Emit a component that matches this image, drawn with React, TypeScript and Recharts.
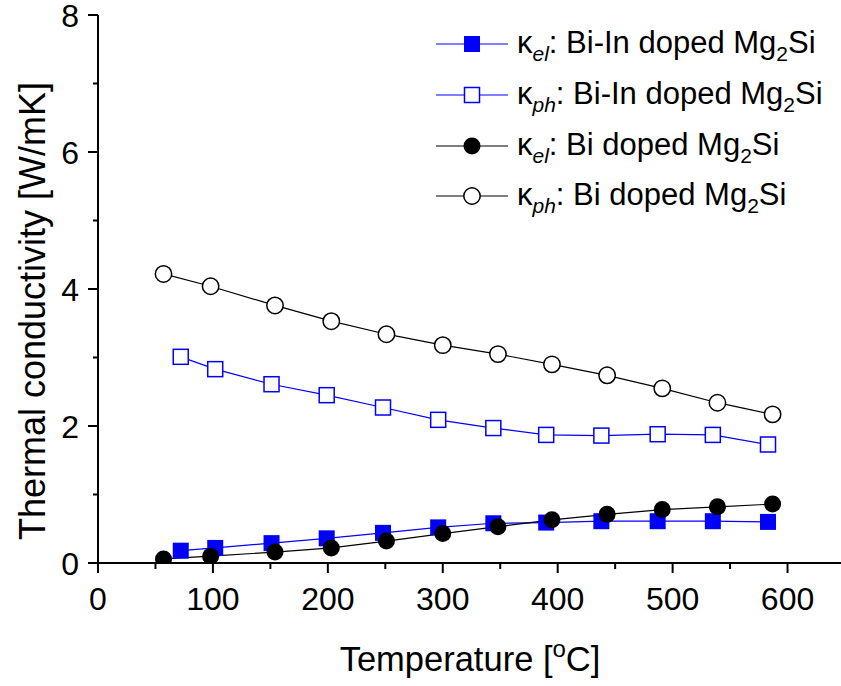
import React from 'react';
import { LineChart, Line, XAxis, YAxis, Label } from 'recharts';

// Measured temperatures (°C) for each sample
const biInTemps = [72, 102, 151, 199, 248, 296, 344, 390, 438, 487, 535, 583];
const biTemps = [57, 98, 154, 203, 251, 300, 348, 395, 443, 491, 539, 587];

// Electronic and lattice thermal conductivity (W/mK)
const biInKel = [0.18, 0.22, 0.29, 0.36, 0.44, 0.52, 0.58, 0.59, 0.61, 0.61, 0.61, 0.6];
const biInKph = [3.01, 2.83, 2.61, 2.45, 2.27, 2.09, 1.97, 1.87, 1.86, 1.88, 1.87, 1.73];
const biKel = [0.06, 0.1, 0.16, 0.22, 0.32, 0.43, 0.53, 0.63, 0.71, 0.78, 0.82, 0.86];
const biKph = [4.22, 4.04, 3.76, 3.53, 3.34, 3.18, 3.05, 2.9, 2.74, 2.55, 2.34, 2.17];

const xTicks = [0, 50, 100, 150, 200, 250, 300, 350, 400, 450, 500, 550, 600, 650];
const yTicks = [0, 1, 2, 3, 4, 5, 6, 7, 8];

const FONT = '"Liberation Sans", Arial, Helvetica, sans-serif';
const BLUE = '#0000FF';

const toPoints = (ts: number[], vs: number[]) => ts.map((t, i) => ({ t, v: vs[i] }));

type Kind = 'filledSquare' | 'openSquare' | 'filledCircle' | 'openCircle';

const Marker = ({ kind, cx, cy }: { kind: Kind; cx: number; cy: number }) => {
  switch (kind) {
    case 'filledSquare':
      return <rect x={cx - 8} y={cy - 8} width={16} height={16} fill={BLUE} />;
    case 'openSquare':
      return <rect x={cx - 7.5} y={cy - 7.5} width={15} height={15} fill="#fff" stroke={BLUE} strokeWidth={1.5} />;
    case 'filledCircle':
      return <circle cx={cx} cy={cy} r={8.5} fill="#000" />;
    default:
      return <circle cx={cx} cy={cy} r={8.2} fill="#fff" stroke="#000" strokeWidth={1.5} />;
  }
};

const dotFor = (kind: Kind) => (p: any) => (
  <Marker key={`${kind}-${p.index}`} kind={kind} cx={p.cx} cy={p.cy} />
);

const BottomTick = ({ x, y, payload }: any) => {
  const major = payload.value % 100 === 0;
  return (
    <g>
      <line x1={x} x2={x} y1={y} y2={y + (major ? 10 : 6)} stroke="#000" strokeWidth={2} />
      {major && (
        <text x={x} y={y + 47} textAnchor="middle" fontSize={32} fontFamily={FONT} fill="#000">
          {payload.value}
        </text>
      )}
    </g>
  );
};

const TopTick = ({ x, y }: any) => (
  <line x1={x} x2={x} y1={y} y2={y + 3} stroke="#000" strokeWidth={1.5} />
);

const LeftTick = ({ x, y, payload }: any) => {
  const major = payload.value % 2 === 0;
  return (
    <g>
      <line x1={x} x2={x - (major ? 10 : 5)} y1={y} y2={y} stroke="#000" strokeWidth={2} />
      {major && (
        <text x={x - 19} y={y + 12} textAnchor="end" fontSize={32} fontFamily={FONT} fill="#000">
          {payload.value}
        </text>
      )}
    </g>
  );
};

const legendRows: { kind: Kind; color: string; sub: string; sample: string }[] = [
  { kind: 'filledSquare', color: BLUE, sub: 'el', sample: 'Bi-In doped Mg' },
  { kind: 'openSquare', color: BLUE, sub: 'ph', sample: 'Bi-In doped Mg' },
  { kind: 'filledCircle', color: '#000', sub: 'el', sample: 'Bi doped Mg' },
  { kind: 'openCircle', color: '#000', sub: 'ph', sample: 'Bi doped Mg' },
];

// Legend drawn as an overlay in the upper right corner of the plot
const LegendBox = () => (
  <div style={{ position: 'absolute', left: 436, top: 19, fontFamily: FONT, color: '#000' }}>
    {legendRows.map((r) => (
      <div key={r.kind} style={{ display: 'flex', alignItems: 'center', height: 50.7, whiteSpace: 'nowrap' }}>
        <svg width={72} height={24} style={{ flex: 'none' }}>
          <line x1={0} x2={72} y1={12} y2={12} stroke={r.color} strokeWidth={1.2} />
          <Marker kind={r.kind} cx={36} cy={12} />
        </svg>
        <span style={{ marginLeft: 9, fontSize: 31, lineHeight: '31px' }}>
          κ
          <span style={{ fontSize: 21, fontStyle: 'italic', position: 'relative', top: 8 }}>{r.sub}</span>
          : {r.sample}
          <span style={{ fontSize: 21, position: 'relative', top: 8 }}>2</span>
          Si
        </span>
      </div>
    ))}
  </div>
);

export default function App() {
  return (
    <div
      style={{
        position: 'absolute',
        left: 0,
        top: 0,
        width: 841,
        height: 686,
        overflow: 'hidden',
        background: '#fff',
      }}
    >
      <LineChart width={880} height={686} margin={{ top: 15, right: 35, left: 0, bottom: 0 }}>
        <XAxis
          type="number"
          dataKey="t"
          domain={[0, 650]}
          ticks={xTicks}
          interval={0}
          height={123}
          stroke="#000"
          strokeWidth={2}
          tickLine={false}
          tickSize={0}
          tickMargin={0}
          tick={<BottomTick />}
          allowDataOverflow
        >
          <Label
            content={() => (
              <text x={470} y={671} textAnchor="middle" fontSize={34.5} fontFamily={FONT} fill="#000">
                Temperature [
                <tspan fontSize={24} dy={-14}>o</tspan>
                <tspan dy={14}>C]</tspan>
              </text>
            )}
          />
        </XAxis>
        <XAxis
          xAxisId="top"
          orientation="top"
          type="number"
          dataKey="t"
          domain={[0, 650]}
          ticks={xTicks}
          interval={0}
          height={0}
          stroke="#000"
          strokeWidth={2}
          tickLine={false}
          tickSize={0}
          tickMargin={0}
          tick={<TopTick />}
        />
        <YAxis
          type="number"
          domain={[0, 8]}
          ticks={yTicks}
          interval={0}
          width={98}
          stroke="#000"
          strokeWidth={2}
          tickLine={false}
          tickSize={0}
          tickMargin={0}
          tick={<LeftTick />}
          allowDataOverflow
        >
          <Label
            content={() => (
              <text
                x={45}
                y={311}
                transform="rotate(-90 45 311)"
                textAnchor="middle"
                fontSize={36}
                fontFamily={FONT}
                fill="#000"
              >
                Thermal conductivity [W/mK]
              </text>
            )}
          />
        </YAxis>
        <Line
          data={toPoints(biInTemps, biInKph)}
          dataKey="v"
          stroke={BLUE}
          strokeWidth={1.2}
          dot={dotFor('openSquare')}
          isAnimationActive={false}
        />
        <Line
          data={toPoints(biTemps, biKph)}
          dataKey="v"
          stroke="#000"
          strokeWidth={1.2}
          dot={dotFor('openCircle')}
          isAnimationActive={false}
        />
        <Line
          data={toPoints(biInTemps, biInKel)}
          dataKey="v"
          stroke={BLUE}
          strokeWidth={1.2}
          dot={dotFor('filledSquare')}
          isAnimationActive={false}
        />
        <Line
          data={toPoints(biTemps, biKel)}
          dataKey="v"
          stroke="#000"
          strokeWidth={1.2}
          dot={dotFor('filledCircle')}
          isAnimationActive={false}
        />
      </LineChart>
      <LegendBox />
    </div>
  );
}
